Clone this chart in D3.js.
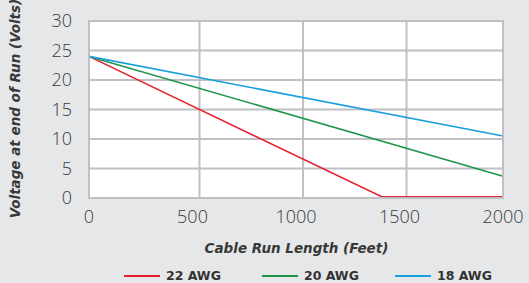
<!DOCTYPE html>
<html>
<head>
<meta charset="utf-8">
<script src="https://cdn.jsdelivr.net/npm/d3@7"></script>
<style>
  html, body { margin: 0; padding: 0; background: #e6e7e9; }
  svg { display: block; }
</style>
</head>
<body>
<div id="chart"></div>
<script>
// ---- data ----
const seriesNames = ["22 AWG", "20 AWG", "18 AWG"];
const seriesColors = ["#e5202e", "#20944b", "#18a0dc"];
const awg22Feet = [0, 1414, 2000];
const awg22Volts = [24, 0.2, 0.2];
const awg20Feet = [0, 2000];
const awg20Volts = [24, 3.7];
const awg18Feet = [0, 2000];
const awg18Volts = [24, 10.5];
const xTicks = [0, 500, 1000, 1500, 2000];
const yTicks = [0, 5, 10, 15, 20, 25, 30];
const xTitle = "Cable Run Length (Feet)";
const yTitle = "Voltage at end of Run (Volts)";

const series = [
  { name: seriesNames[0], color: seriesColors[0], pts: awg22Feet.map((f, i) => [f, awg22Volts[i]]) },
  { name: seriesNames[1], color: seriesColors[1], pts: awg20Feet.map((f, i) => [f, awg20Volts[i]]) },
  { name: seriesNames[2], color: seriesColors[2], pts: awg18Feet.map((f, i) => [f, awg18Volts[i]]) }
];

const W = 529, H = 283;
const L = 89, R = 503, T = 21, B = 198;

const svg = d3.select("#chart").append("svg").attr("width", W).attr("height", H);
svg.append("rect").attr("width", W).attr("height", H).attr("fill", "#e6e7e9");

const x = d3.scaleLinear().domain([0, 2000]).range([L, R]);
const y = d3.scaleLinear().domain([0, 30]).range([B, T]);

// plot area
svg.append("rect").attr("x", L).attr("y", T).attr("width", R - L).attr("height", B - T)
  .attr("fill", "#ffffff");

const gridColor = "#c0c0c4";
// horizontal grid
svg.append("g").selectAll("line").data(yTicks.filter(d => d > 0 && d < 30)).join("line")
  .attr("x1", L).attr("x2", R).attr("y1", d => y(d)).attr("y2", d => y(d))
  .attr("stroke", gridColor).attr("stroke-width", 2);
// vertical grid (drawn slightly right of the tick labels, as in the source)
svg.append("g").attr("transform", "translate(7,0)").selectAll("line")
  .data(xTicks.filter(d => d > 0 && d < 2000)).join("line")
  .attr("x1", d => x(d)).attr("x2", d => x(d)).attr("y1", T).attr("y2", B)
  .attr("stroke", gridColor).attr("stroke-width", 2);

// lines
const line = d3.line().x(d => x(d[0])).y(d => y(d[1]));
svg.append("g").selectAll("path").data(series).join("path")
  .attr("d", d => line(d.pts)).attr("fill", "none")
  .attr("stroke", d => d.color).attr("stroke-width", 1.6);

// border
svg.append("rect").attr("x", L).attr("y", T).attr("width", R - L).attr("height", B - T)
  .attr("fill", "none").attr("stroke", gridColor).attr("stroke-width", 2);

const tickFont = "'Open Sans', sans-serif";
const titleFont = "'DejaVu Sans', sans-serif";
// y tick labels
svg.append("g").selectAll("text").data(yTicks).join("text")
  .attr("x", 72).attr("y", d => y(d)).attr("dy", "0.36em")
  .attr("text-anchor", "end").attr("font-family", tickFont).attr("font-size", 18)
  .attr("font-weight", 300).attr("fill", "#3a3a3a").text(d => d);
// x tick labels
svg.append("g").selectAll("text").data(xTicks).join("text")
  .attr("x", d => x(d)).attr("y", 223)
  .attr("text-anchor", "middle").attr("font-family", tickFont).attr("font-size", 18)
  .attr("font-weight", 300).attr("fill", "#3a3a3a").text(d => d);

// axis titles
svg.append("text").attr("x", 296.5).attr("y", 253).attr("text-anchor", "middle")
  .attr("font-family", titleFont).attr("font-size", 13.5).attr("font-weight", 700)
  .attr("font-style", "italic").attr("fill", "#383838").text(xTitle);
svg.append("text").attr("transform", "translate(20,108.5) rotate(-90)").attr("text-anchor", "middle")
  .attr("font-family", titleFont).attr("font-size", 13.5).attr("font-weight", 700)
  .attr("font-style", "italic").attr("fill", "#383838").text(yTitle);

// legend
const legX = [124, 262, 395];
const lg = svg.append("g").selectAll("g").data(series).join("g")
  .attr("transform", (d, i) => `translate(${legX[i]},276)`);
lg.append("line").attr("x1", 0).attr("x2", 36).attr("y1", 0).attr("y2", 0)
  .attr("stroke", d => d.color).attr("stroke-width", 2);
lg.append("text").attr("x", 42).attr("y", 0).attr("dy", "0.34em")
  .attr("font-family", titleFont).attr("font-size", 12.5).attr("font-weight", 700)
  .attr("fill", "#333").text(d => d.name);
</script>
</body>
</html>
